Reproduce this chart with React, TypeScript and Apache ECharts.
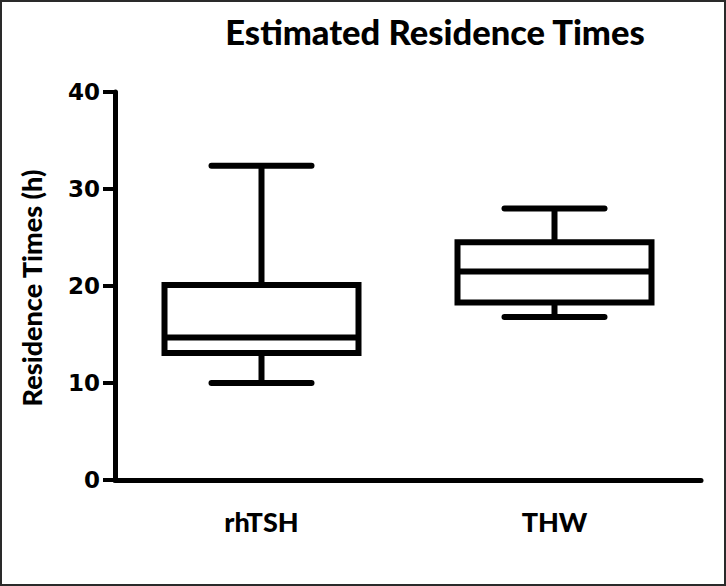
import React, { useEffect, useRef } from "react";
import * as echarts from "echarts";

const categories = ["rhTSH", "THW"];
// [min, Q1, median, Q3, max]
const boxValues = [
  [10.0, 13.1, 14.7, 20.1, 32.4],
  [16.8, 18.3, 21.5, 24.5, 28.0],
];
const yTicks = { min: 0, max: 40, interval: 10 };
const titleText = "Estimated Residence Times";
const yAxisName = "Residence Times (h)";

export default function App() {
  const ref = useRef<HTMLDivElement>(null);
  useEffect(() => {
    if (!ref.current) return;
    const chart = echarts.init(ref.current, undefined, { renderer: "svg" });
    const data = boxValues.map((v, i) => [i, ...v]);
    const LW = 6;
    chart.setOption({
      animation: false,
      backgroundColor: "#fff",
      title: {
        text: titleText,
        left: 430,
        top: 9,
        textAlign: "center",
        textStyle: { fontFamily: "Lato", fontWeight: 900, fontSize: 34.5, color: "#000" },
      },
      graphic: [
        {
          type: "text",
          x: 31,
          y: 288,
          rotation: Math.PI / 2,
          style: {
            text: yAxisName,
            fontFamily: "Lato",
            fontWeight: 900,
            fontSize: 27,
            fill: "#000",
            textAlign: "center",
            textVerticalAlign: "middle",
          },
        },
      ],
      grid: { left: 115, right: 25, top: 92, bottom: 106, containLabel: false },
      xAxis: {
        type: "category",
        data: categories,
        boundaryGap: true,
        axisLine: { lineStyle: { color: "#000", width: 5 } },
        axisTick: { alignWithLabel: true, length: 9, lineStyle: { color: "#000", width: 4 } },
        axisLabel: {
          margin: 28,
          color: "#000",
          fontFamily: "Lato",
          fontWeight: 900,
          fontSize: 27,
        },
        splitLine: { show: false },
      },
      yAxis: {
        type: "value",
        min: yTicks.min,
        max: yTicks.max,
        interval: yTicks.interval,
        axisLine: { show: true, lineStyle: { color: "#000", width: 5 } },
        axisTick: { show: true, length: 12, lineStyle: { color: "#000", width: 4 } },
        axisLabel: {
          margin: 15,
          color: "#000",
          fontFamily: "DejaVu Sans",
          fontWeight: "bold",
          fontSize: 23,
        },
        splitLine: { show: false },
      },
      series: [
        {
          type: "custom",
          data,
          encode: { x: 0, y: [1, 2, 3, 4, 5] },
          renderItem: (params: any, api: any) => {
            const idx = api.value(0);
            const pMin = api.coord([idx, api.value(1)]);
            const pQ1 = api.coord([idx, api.value(2)]);
            const pMed = api.coord([idx, api.value(3)]);
            const pQ3 = api.coord([idx, api.value(4)]);
            const pMax = api.coord([idx, api.value(5)]);
            const cx = pMin[0];
            const halfBox = 97;
            const halfCap = 50;
            const style = { stroke: "#000", lineWidth: LW, fill: "none" };
            return {
              type: "group",
              children: [
                {
                  type: "line",
                  shape: { x1: cx, y1: pMax[1], x2: cx, y2: pQ3[1] },
                  style,
                },
                {
                  type: "line",
                  shape: { x1: cx, y1: pQ1[1], x2: cx, y2: pMin[1] },
                  style,
                },
                {
                  type: "line",
                  shape: { x1: cx - halfCap, y1: pMax[1], x2: cx + halfCap, y2: pMax[1] },
                  style: { ...style, lineCap: "round" },
                },
                {
                  type: "line",
                  shape: { x1: cx - halfCap, y1: pMin[1], x2: cx + halfCap, y2: pMin[1] },
                  style: { ...style, lineCap: "round" },
                },
                {
                  type: "rect",
                  shape: { x: cx - halfBox, y: pQ3[1], width: halfBox * 2, height: pQ1[1] - pQ3[1] },
                  style: { stroke: "#000", lineWidth: LW, fill: "#fff" },
                },
                {
                  type: "line",
                  shape: { x1: cx - halfBox, y1: pMed[1], x2: cx + halfBox, y2: pMed[1] },
                  style,
                },
              ],
            };
          },
        },
      ],
    });
    return () => chart.dispose();
  }, []);
  return (
    <div style={{ position: "fixed", left: 0, top: 0, width: 726, height: 586, background: "#fff" }}>
      <div ref={ref} style={{ position: "absolute", left: 0, top: 0, width: 726, height: 586 }} />
      <div
        style={{
          position: "absolute",
          left: 0,
          top: 0,
          width: 726,
          height: 586,
          boxSizing: "border-box",
          border: "2px solid #2a2a2a",
          pointerEvents: "none",
        }}
      />
    </div>
  );
}
